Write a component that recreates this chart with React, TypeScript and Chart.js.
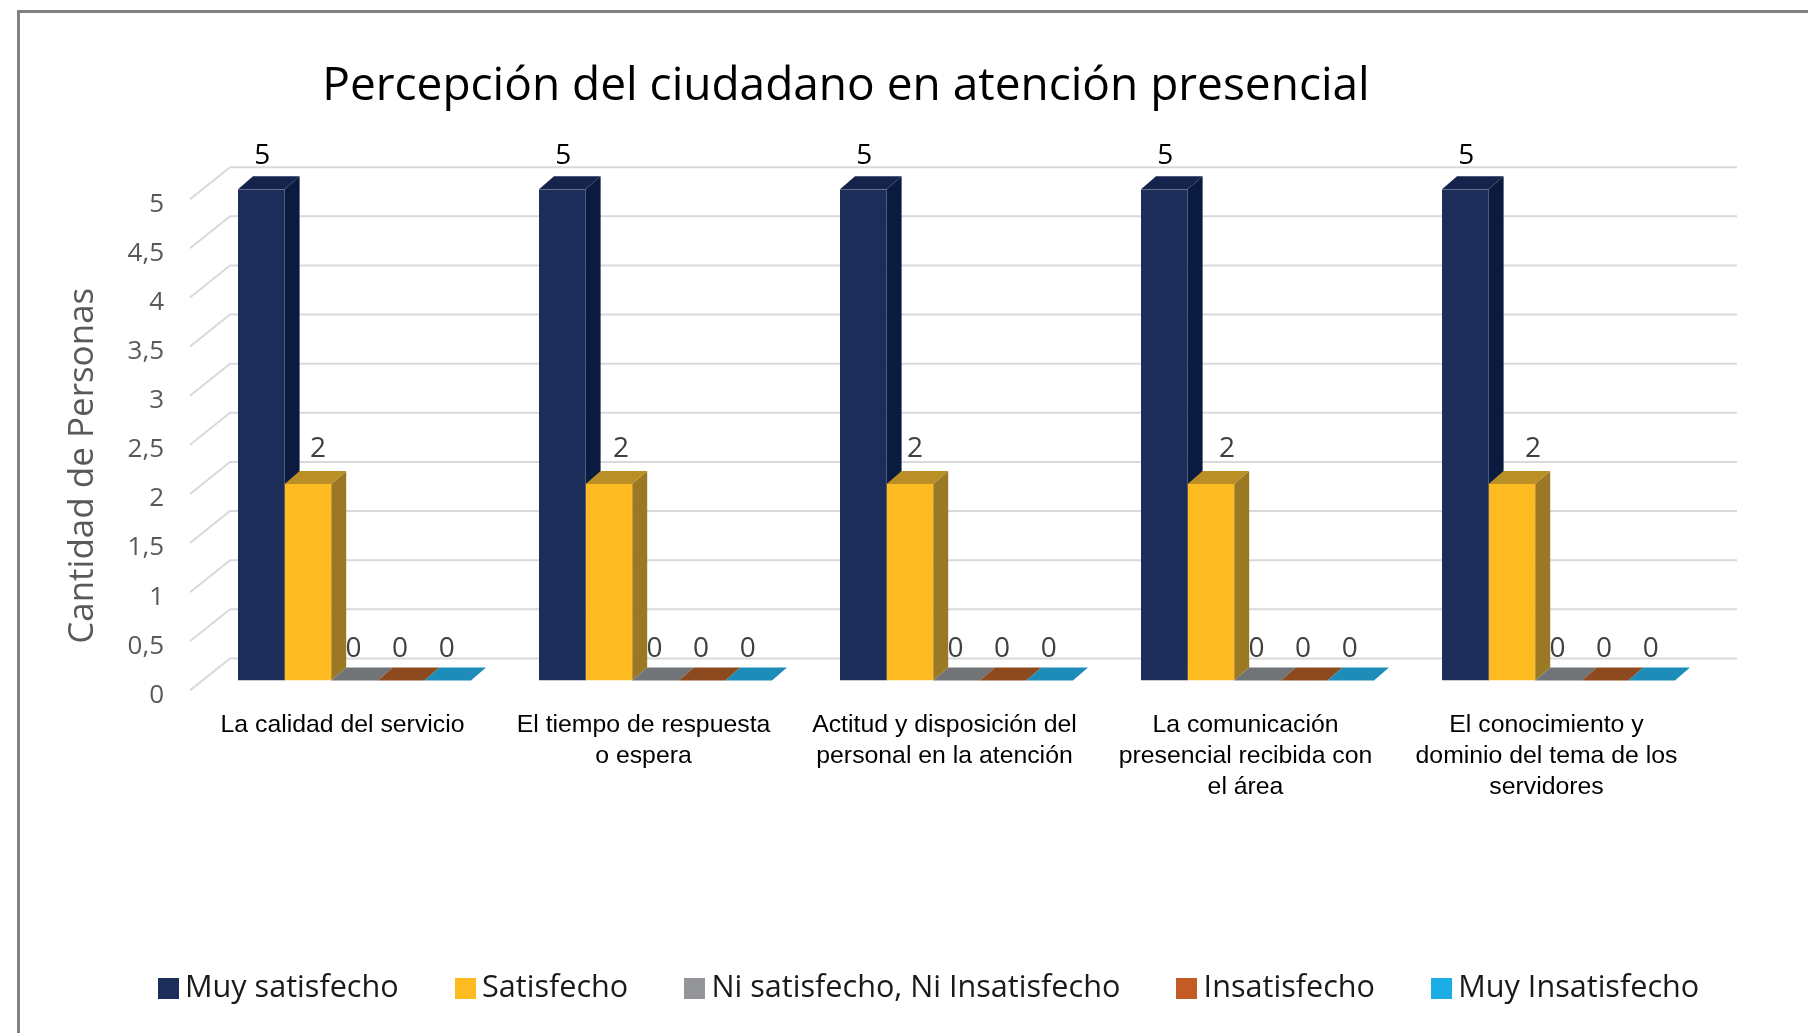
import React, { useEffect, useRef } from "react";
import { Chart, registerables } from "chart.js";

Chart.register(...registerables);

const titleText = "Percepción del ciudadano en atención presencial";
const yAxisTitle = "Cantidad de Personas";
const categories: string[][] = [
  ["La calidad del servicio"],
  ["El tiempo de respuesta", "o espera"],
  ["Actitud y disposición del", "personal en la atención"],
  ["La comunicación", "presencial recibida con", "el área"],
  ["El conocimiento y", "dominio del tema de los", "servidores"],
];
const yTickLabels = ["0", "0,5", "1", "1,5", "2", "2,5", "3", "3,5", "4", "4,5", "5"];
const seriesNames = ["Muy satisfecho", "Satisfecho", "Ni satisfecho, Ni Insatisfecho", "Insatisfecho", "Muy Insatisfecho"];
const muySatisfecho = [5, 5, 5, 5, 5];
const satisfecho = [2, 2, 2, 2, 2];
const neutral = [0, 0, 0, 0, 0];
const insatisfecho = [0, 0, 0, 0, 0];
const muyInsatisfecho = [0, 0, 0, 0, 0];
const seriesValues = [muySatisfecho, satisfecho, neutral, insatisfecho, muyInsatisfecho];

const frontColors = ["#1c2d5a", "#fdbb21", "#76797c", "#8e4a1f", "#1e8cb8"];
const topColors = ["#14244d", "#b98f26", "#717477", "#8e4a1f", "#1e8cb8"];
const sideColors = ["#0b1a3f", "#9a7824", "#5c5e60", "#6e3917", "#17698a"];
const legendColors = ["#1c2d5a", "#fdbb21", "#939598", "#c45a24", "#1cade4"];

const FONT = '"Open Sans"';
const DEPTH_X = 15;
const DEPTH_Y = -13;
const twoLabelNudge = [10, 12, 5, 16, 21];

const scenePlugin = {
  id: "scene3d",
  afterLayout(chart: any) {
    // Title and legend are the library's own blocks; only their centre is moved.
    const t = chart.titleBlock;
    if (t) { t.left = 0; t.right = 1692; }
    const l = chart.legend;
    if (l) {
      l.left = 0; l.right = 1866; l.width = 1866;
      l.top = 908; l.bottom = 1020;
    }
    const s = chart.scales.y;
    if (!s.__moved) {
      s.__moved = true;
      const orig = s.drawTitle;
      s.drawTitle = function () {
        const c = chart.ctx;
        c.save();
        c.translate(0, 31);
        orig.call(s);
        c.restore();
      };
    }
  },
  beforeDatasetsDraw(chart: any) {
    const { ctx, chartArea, scales } = chart;
    ctx.save();
    ctx.strokeStyle = "#d9d9d9";
    ctx.lineWidth = 2;
    scales.y.ticks.forEach((t: any) => {
      const y = scales.y.getPixelForValue(t.value);
      ctx.beginPath();
      ctx.moveTo(chartArea.left - 14, y + 10);
      ctx.lineTo(chartArea.left + 26, y - 22);
      ctx.lineTo(chartArea.right + 28, y - 22);
      ctx.stroke();
    });
    seriesValues.forEach((_, ds) => {
      chart.getDatasetMeta(ds).data.forEach((el: any) => {
        const p = el.getProps(["x", "y", "base", "width"], true);
        const l = p.x - p.width / 2;
        const r = p.x + p.width / 2;
        if (p.base - p.y > 0) {
          ctx.fillStyle = sideColors[ds];
          ctx.beginPath();
          ctx.moveTo(r, p.y);
          ctx.lineTo(r + DEPTH_X, p.y + DEPTH_Y);
          ctx.lineTo(r + DEPTH_X, p.base + DEPTH_Y);
          ctx.lineTo(r, p.base);
          ctx.closePath();
          ctx.fill();
        }
        ctx.fillStyle = topColors[ds];
        ctx.beginPath();
        ctx.moveTo(l, p.y);
        ctx.lineTo(l + DEPTH_X, p.y + DEPTH_Y);
        ctx.lineTo(r + DEPTH_X, p.y + DEPTH_Y);
        ctx.lineTo(r, p.y);
        ctx.closePath();
        ctx.fill();
      });
    });
    ctx.restore();
  },
  afterDatasetsDraw(chart: any) {
    const { ctx } = chart;
    ctx.save();
    ctx.font = `28px ${FONT}`;
    ctx.textAlign = "center";
    ctx.textBaseline = "middle";
    seriesValues.forEach((vals, ds) => {
      chart.getDatasetMeta(ds).data.forEach((el: any, i: number) => {
        const p = el.getProps(["x", "y"], true);
        const nudge = ds === 1 ? twoLabelNudge[i] : ds === 0 ? 1 : -1;
        ctx.fillStyle = ds === 0 ? "#000000" : "#404040";
        const lift = ds === 0 ? 33 : ds === 1 ? 35 : 31;
        ctx.fillText(String(vals[i]), p.x + nudge, p.y - lift);
      });
    });
    ctx.restore();
  },
};

export default function App() {
  const ref = useRef<HTMLCanvasElement>(null);
  useEffect(() => {
    const markers = legendColors.map((c) => {
      const m = document.createElement("canvas");
      m.width = 21;
      m.height = 21;
      const g = m.getContext("2d")!;
      g.fillStyle = c;
      g.fillRect(0, 0, 21, 21);
      return m;
    });
    const chart = new Chart(ref.current!, {
      type: "bar",
      data: {
        labels: categories,
        datasets: seriesNames.map((name, i) => ({
          label: name,
          data: seriesValues[i],
          backgroundColor: frontColors[i],
          categoryPercentage: 0.774,
          barPercentage: 1,
        })),
      },
      plugins: [scenePlugin],
      options: {
        responsive: false,
        animation: false,
        layout: { padding: { left: 0, right: 99, top: 0, bottom: 0 } },
        plugins: {
          tooltip: { enabled: false },
          title: {
            display: true,
            text: titleText,
            color: "#000000",
            font: { family: FONT, size: 46, weight: "normal", lineHeight: 1.2 },
            padding: { top: 59, bottom: 75 },
          },
          legend: {
            display: true,
            position: "bottom",
            labels: {
              color: "#1a1a1a",
              font: { family: FONT, size: 30.6 },
              usePointStyle: true,
              pointStyleWidth: 3,
              boxHeight: 21,
              padding: 65,
              generateLabels(c: any) {
                const items = Chart.defaults.plugins.legend.labels.generateLabels(c);
                items.forEach((it: any, i: number) => {
                  it.pointStyle = markers[i];
                });
                return items;
              },
            },
          },
        },
        scales: {
          x: {
            grid: { display: false },
            border: { display: false },
            afterFit(s: any) { s.height = 247; },
            ticks: {
              autoSkip: false,
              maxRotation: 0,
              minRotation: 0,
              padding: 21,
              labelOffset: -12,
              color: "#000000",
              font: { family: '"Liberation Sans"', size: 24.8, lineHeight: 1.25 },
            },
          },
          y: {
            min: 0,
            max: 5,
            grid: { display: false, drawTicks: false },
            border: { display: false },
            afterFit(s: any) { s.width = 204; },
            title: {
              display: true,
              text: yAxisTitle,
              color: "#595959",
              font: { family: FONT, size: 35 },
              padding: { top: 62, bottom: 0 },
            },
            ticks: {
              stepSize: 0.5,
              padding: 40,
              labelOffset: 15,
              color: "#595959",
              font: { family: FONT, size: 26 },
              callback(_v: any, i: number) { return yTickLabels[i]; },
            },
          },
        },
      },
    } as any);
    return () => chart.destroy();
  }, []);
  return (
    <div style={{ position: "fixed", left: 0, top: 0, width: 1808, height: 1033, background: "#ffffff", overflow: "hidden" }}>
      <div style={{ position: "absolute", left: 17, top: 10, right: 0, bottom: 0, borderLeft: "3px solid #7f8284", borderTop: "3px solid #7f8284" }} />
      <canvas ref={ref} width={1808} height={1033} style={{ position: "absolute", left: 0, top: 0 }} />
    </div>
  );
}
